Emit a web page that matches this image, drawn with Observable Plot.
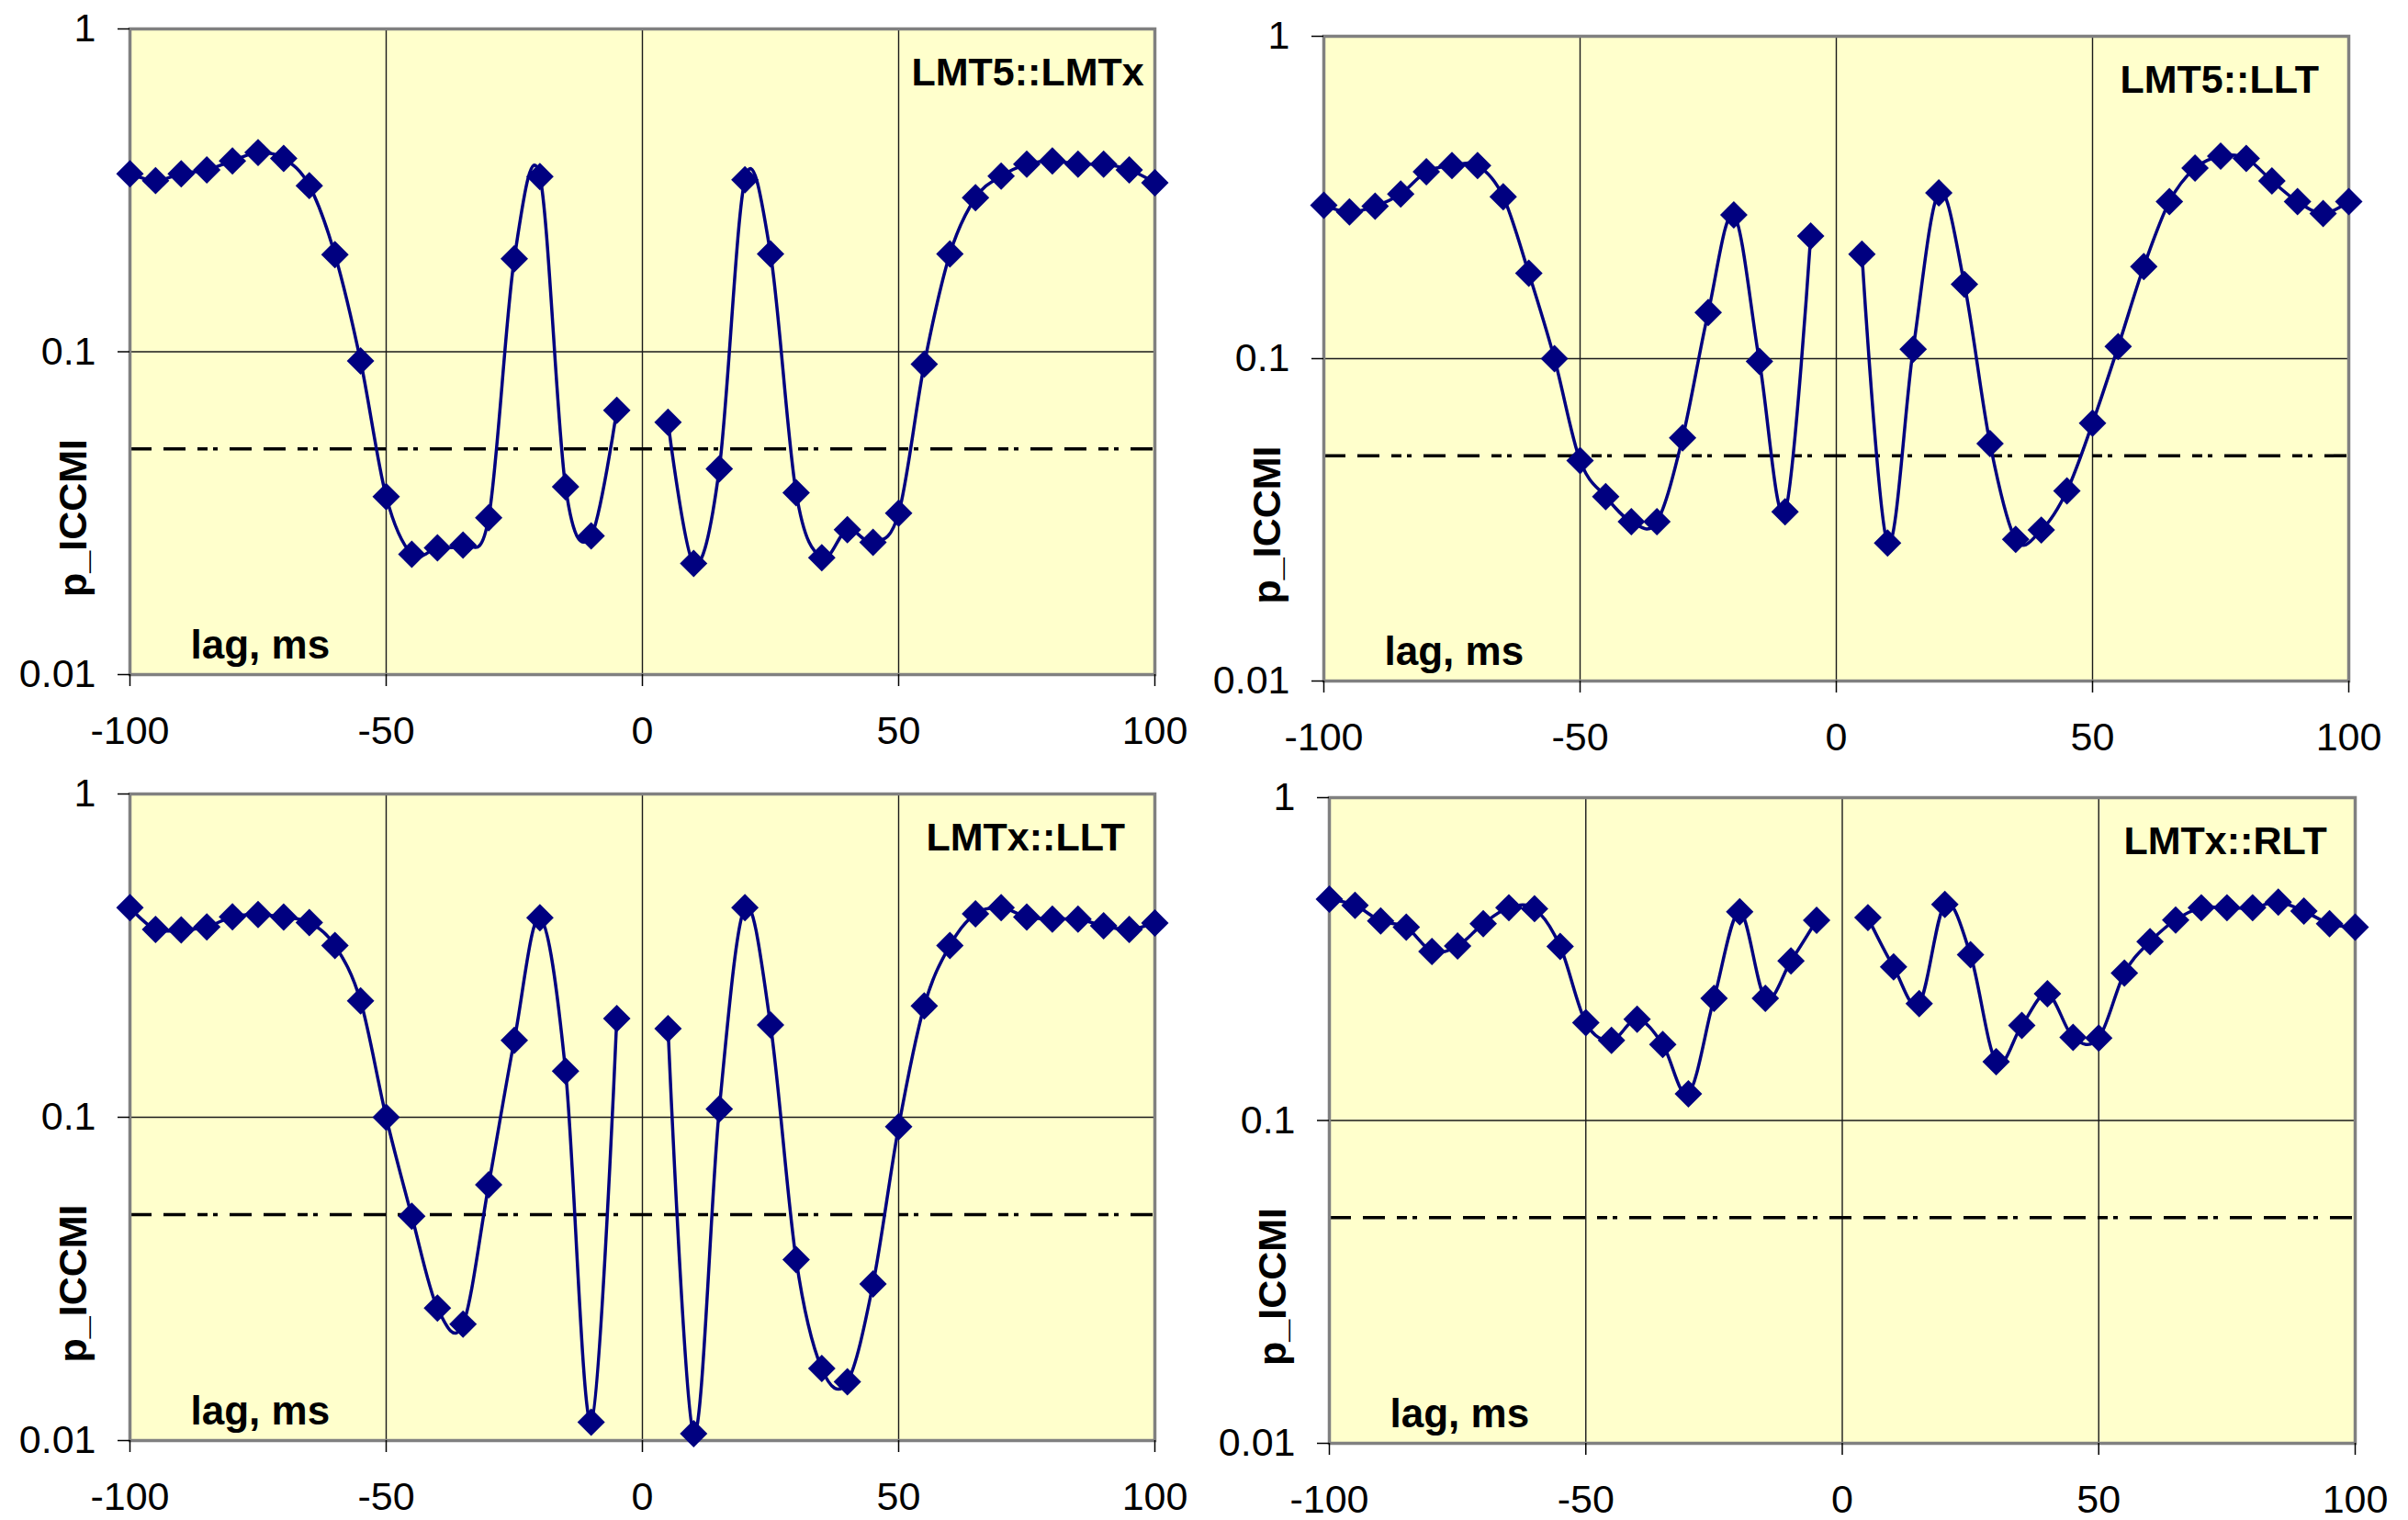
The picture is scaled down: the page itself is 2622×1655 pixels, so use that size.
<!DOCTYPE html>
<html>
<head>
<meta charset="utf-8">
<script src="https://cdn.jsdelivr.net/npm/d3@7"></script>
<script src="https://cdn.jsdelivr.net/npm/@observablehq/plot@0.6"></script>
<style>
  html, body { margin: 0; padding: 0; background: #ffffff; }
  #root { position: relative; width: 2622px; height: 1655px; overflow: hidden; background: #ffffff; }
</style>
</head>
<body>
<div id="root"></div>
<script>
// ---- data ----
const lags = [-100, -95, -90, -85, -80, -75, -70, -65, -60, -55,
              -50, -45, -40, -35, -30, -25, -20, -15, -10, -5,
              0,
              5, 10, 15, 20, 25, 30, 35, 40, 45, 50,
              55, 60, 65, 70, 75, 80, 85, 90, 95, 100];

const pLMT5_LMTx = [0.356, 0.339, 0.356, 0.366, 0.390, 0.414, 0.397, 0.327, 0.200, 0.0937,
                    0.0356, 0.0236, 0.0247, 0.0252, 0.0306, 0.194, 0.349, 0.0382, 0.0269, 0.0659,
                    null,
                    0.0605, 0.0221, 0.0434, 0.341, 0.201, 0.0366, 0.0230, 0.0281, 0.0257, 0.0316,
                    0.0915, 0.201, 0.300, 0.350, 0.381, 0.390, 0.381, 0.381, 0.366, 0.334];

const pLMT5_LLT = [0.299, 0.285, 0.297, 0.324, 0.380, 0.397, 0.397, 0.318, 0.184, 0.100,
                   0.0483, 0.0373, 0.0312, 0.0312, 0.0568, 0.139, 0.279, 0.098, 0.0335, 0.240,
                   null,
                   0.211, 0.0268, 0.107, 0.327, 0.170, 0.0545, 0.0275, 0.0294, 0.0389, 0.0631,
                   0.109, 0.193, 0.307, 0.390, 0.425, 0.418, 0.356, 0.307, 0.282, 0.307];

const pLMTx_LLT = [0.445, 0.381, 0.380, 0.388, 0.417, 0.424, 0.416, 0.400, 0.340, 0.229,
                   0.100, 0.0494, 0.0257, 0.0229, 0.0618, 0.173, 0.414, 0.139, 0.0114, 0.202,
                   null,
                   0.188, 0.0105, 0.106, 0.445, 0.193, 0.0363, 0.0167, 0.0152, 0.0305, 0.0935,
                   0.221, 0.340, 0.426, 0.445, 0.416, 0.410, 0.410, 0.391, 0.381, 0.399];

const pLMTx_RLT = [0.485, 0.464, 0.415, 0.397, 0.334, 0.347, 0.407, 0.456, 0.453, 0.346,
                   0.201, 0.177, 0.206, 0.172, 0.121, 0.239, 0.443, 0.239, 0.312, 0.417,
                   null,
                   0.425, 0.299, 0.230, 0.467, 0.326, 0.152, 0.197, 0.247, 0.181, 0.180,
                   0.286, 0.358, 0.418, 0.456, 0.456, 0.456, 0.475, 0.445, 0.407, 0.397];

const panelTitles = ["LMT5::LMTx", "LMT5::LLT", "LMTx::LLT", "LMTx::RLT"];
const xTicks = [-100, -50, 0, 50, 100];
const xGridValues = [-50, 0, 50];
const yTicks = [1, 0.1, 0.01];
const yTickLabels = ["1", "0.1", "0.01"];
const yGridValues = [0.1];
const thresholdValues = [0.05];
const xLabelText = "lag, ms";
const yLabelText = "p_ICCMI";

// ---- layout (pixels) ----
const layout = [
  {left: 0,    top: 0,   width: 1300, height: 830, mt: 31, mb: 96, ml: 141, mr: 43, titleDx: 851},
  {left: 1300, top: 0,   width: 1300, height: 830, mt: 39, mb: 89, ml: 141, mr: 43, titleDx: 867},
  {left: 0,    top: 830, width: 1300, height: 825, mt: 34, mb: 87, ml: 141, mr: 43, titleDx: 867},
  {left: 1300, top: 830, width: 1322, height: 825, mt: 38, mb: 84, ml: 147, mr: 58, titleDx: 865}
];

const FONT = '"Liberation Sans", Arial, Helvetica, sans-serif';
const NAVY = "#000080";
const series = [pLMT5_LMTx, pLMT5_LLT, pLMTx_LLT, pLMTx_RLT];
const root = document.getElementById("root");

series.forEach((vals, i) => {
  const L = layout[i];
  const data = lags.map((lag, j) => ({lag, p: vals[j] == null ? NaN : vals[j]}));
  const chart = Plot.plot({
    width: L.width,
    height: L.height,
    marginTop: L.mt,
    marginBottom: L.mb,
    marginLeft: L.ml,
    marginRight: L.mr,
    style: {fontFamily: FONT, fontSize: "43px", color: "#000", background: "transparent", overflow: "visible"},
    x: {domain: [-100, 100]},
    y: {type: "log", domain: [0.01, 1]},
    marks: [
      Plot.frame({fill: "#FFFFCC", stroke: "none"}),
      Plot.ruleX(xGridValues, {stroke: "#1a1a1a", strokeWidth: 1.4}),
      Plot.ruleY(yGridValues, {stroke: "#1a1a1a", strokeWidth: 1.4}),
      Plot.ruleY(thresholdValues, {stroke: "#000", strokeWidth: 3.5, strokeDasharray: "24,13,24,13,11,6,5,13"}),
      Plot.frame({stroke: "#808080", strokeWidth: 3.5}),
      Plot.line(data, {x: "lag", y: "p", curve: "cardinal", stroke: NAVY, strokeWidth: 3.5}),
      Plot.dot(data, {x: "lag", y: "p", symbol: "diamond2", r: 13.5, fill: NAVY, stroke: "none"}),
      Plot.axisX({ticks: xTicks, tickSize: 13, tickPadding: 32, label: null, tickFormat: d => String(d), strokeWidth: 1.5}),
      Plot.axisY({ticks: yTicks, tickSize: 13, tickPadding: 24, label: null,
                  tickFormat: d => yTickLabels[yTicks.indexOf(d)], strokeWidth: 1.5}),
      Plot.text([panelTitles[i]], {frameAnchor: "top-left", dx: L.titleDx, dy: 48, textAnchor: "start",
                                   lineAnchor: "middle", fontSize: 43, fontWeight: "bold", fill: "#000"}),
      Plot.text([xLabelText], {frameAnchor: "bottom-left", dx: 66, dy: -32, textAnchor: "start",
                               lineAnchor: "middle", fontSize: 44, fontWeight: "bold", fill: "#000"}),
      Plot.text([yLabelText], {frameAnchor: "left", dx: -61, dy: 181, rotate: -90, textAnchor: "middle",
                               lineAnchor: "middle", fontSize: 43, fontWeight: "bold", fill: "#000"})
    ]
  });
  chart.style.position = "absolute";
  chart.style.left = L.left + "px";
  chart.style.top = L.top + "px";
  root.appendChild(chart);
});
</script>
</body>
</html>
